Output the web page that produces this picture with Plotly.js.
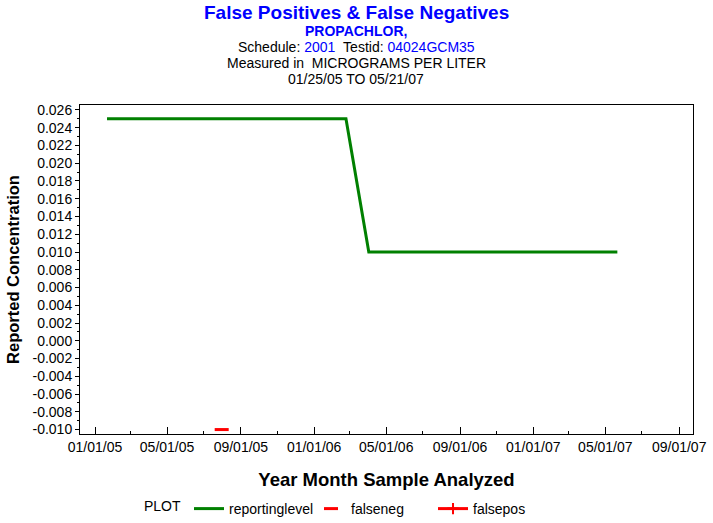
<!DOCTYPE html>
<html>
<head>
<meta charset="utf-8">
<script src="https://cdn.plot.ly/plotly-3.0.1.min.js"></script>
<style>html,body{margin:0;padding:0;background:#fff;}#chart{width:713px;height:523px;}</style>
</head>
<body>
<div id="chart"></div>
<script>
// Data
const reportingDates = ['2005-01-21', '2006-02-23', '2006-04-02', '2007-05-21'];
const reportingLevels = [0.025, 0.025, 0.010, 0.010];
const falsenegDates = ['2005-07-31'];
const falsenegValues = [-0.010];
const falseposDates = [null];   // no false positives in the period
const falseposValues = [null];
const yTickValues = [0.026, 0.024, 0.022, 0.020, 0.018, 0.016, 0.014, 0.012, 0.010, 0.008, 0.006, 0.004, 0.002, 0.000, -0.002, -0.004, -0.006, -0.008, -0.010];
const yTickLabels = yTickValues.map(v => v.toFixed(3).replace('-0.000', '0.000'));

const FONT = 'Arial, "Liberation Sans", sans-serif';

const traces = [
  {
    x: reportingDates, y: reportingLevels, name: 'reportinglevel',
    type: 'scatter', mode: 'lines',
    line: {color: '#008000', width: 3}
  },
  {
    x: falsenegDates, y: falsenegValues, name: 'falseneg',
    type: 'scatter', mode: 'markers',
    marker: {symbol: 'line-ew', size: 10, color: '#ff0000', line: {color: '#ff0000', width: 3}}
  },
  {
    x: falseposDates, y: falseposValues, name: 'falsepos',
    type: 'scatter', mode: 'lines+markers',
    line: {color: '#ff0000', width: 3},
    marker: {symbol: 'cross-thin', size: 8, color: '#ff0000', line: {color: '#ff0000', width: 2}}
  }
];

function py(pix) { return (434 - pix) / 329; }
function px(pix) { return (pix - 80) / 613; }

const layout = {
  width: 713, height: 523,
  margin: {l: 80, r: 20, t: 105, b: 89},
  paper_bgcolor: '#ffffff', plot_bgcolor: '#ffffff',
  font: {family: FONT, size: 14, color: '#000'},
  showlegend: true,
  legend: {
    orientation: 'h', xref: 'container', yref: 'container',
    x: 142 / 713, xanchor: 'left', y: (523 - 509) / 523, yanchor: 'middle',
    font: {family: FONT, size: 14, color: '#000'},
    title: {text: 'PLOT', side: 'left', font: {family: FONT, size: 14, color: '#000'}},
    entrywidth: 77, entrywidthmode: 'pixels',
    bgcolor: 'rgba(0,0,0,0)'
  },
  xaxis: {
    type: 'date',
    range: ['2004-12-07', '2007-09-24'],
    tick0: '2005-01-01', dtick: 'M4', tickformat: '%m/%d/%y',
    ticks: 'inside', ticklen: 7, tickwidth: 1, tickcolor: '#000',
    minor: {dtick: 'M2', tick0: '2005-01-01', ticks: 'inside', ticklen: 3, tickcolor: '#000', showgrid: false},
    showline: true, linecolor: '#000', linewidth: 1, mirror: true,
    showgrid: false, zeroline: false,
    tickfont: {family: FONT, size: 14, color: '#000'},
    title: {text: 'Year Month Sample Analyzed', font: {family: FONT, size: 18.5, color: '#000', weight: 'bold'}, standoff: 19}
  },
  yaxis: {
    range: [-0.0105, 0.02656],
    tickmode: 'array', tickvals: yTickValues, ticktext: yTickLabels,
    ticks: 'outside', ticklen: 4, tickwidth: 1, tickcolor: '#000',
    minor: {dtick: 0.001, tick0: 0, ticks: 'outside', ticklen: 2, tickcolor: '#000', showgrid: false},
    showline: true, linecolor: '#000', linewidth: 1, mirror: true,
    showgrid: false, zeroline: false,
    tickfont: {family: FONT, size: 14, color: '#000'},
    title: {text: 'Reported Concentration', font: {family: FONT, size: 16.5, color: '#000', weight: 'bold'}, standoff: 8}
  },
  annotations: [
    {text: '<b>False Positives &amp; False Negatives</b>', xref: 'paper', yref: 'paper', x: px(356), y: py(12), xanchor: 'center', yanchor: 'middle', showarrow: false, font: {family: FONT, size: 19, color: '#0000ff'}},
    {text: '<b>PROPACHLOR,</b>', xref: 'paper', yref: 'paper', x: px(356), y: py(31), xanchor: 'center', yanchor: 'middle', showarrow: false, font: {family: FONT, size: 14, color: '#0000ff'}},
    {text: 'Schedule: <span style="color:#0000ff">2001</span>\u00a0\u00a0Testid: <span style="color:#0000ff">04024GCM35</span>', xref: 'paper', yref: 'paper', x: px(356), y: py(47), xanchor: 'center', yanchor: 'middle', showarrow: false, font: {family: FONT, size: 14, color: '#000'}},
    {text: 'Measured in\u00a0\u00a0MICROGRAMS PER LITER', xref: 'paper', yref: 'paper', x: px(356), y: py(63), xanchor: 'center', yanchor: 'middle', showarrow: false, font: {family: FONT, size: 14, color: '#000'}},
    {text: '01/25/05 TO 05/21/07', xref: 'paper', yref: 'paper', x: px(356), y: py(79), xanchor: 'center', yanchor: 'middle', showarrow: false, font: {family: FONT, size: 14, color: '#000'}}
  ]
};

Plotly.newPlot('chart', traces, layout, {displayModeBar: false, staticPlot: true});
</script>
</body>
</html>
